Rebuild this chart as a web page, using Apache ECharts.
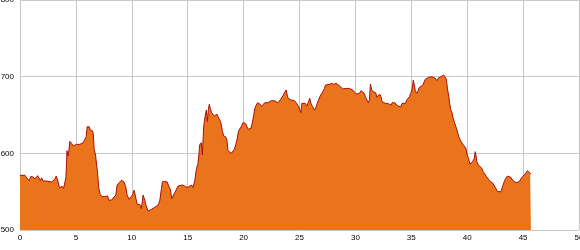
<!DOCTYPE html>
<html>
<head>
<meta charset="utf-8">
<script src="https://cdn.jsdelivr.net/npm/echarts@6/dist/echarts.min.js"></script>
<style>html,body{margin:0;padding:0;background:#fff}#c{width:580px;height:250px}</style>
</head>
<body>
<div id="c"></div>
<script>
const distanceKm = [
0,0.45,0.6,0.74,0.83,0.95,1.13,1.22,1.34,1.43,1.58,1.70,1.82,1.93,2.08,2.17,2.38,2.53,2.83,2.98,
3.13,3.24,3.36,3.45,3.54,3.66,3.78,3.90,4.02,4.11,4.20,4.32,4.46,4.61,4.76,4.91,5.06,5.21,5.36,5.51,
5.65,5.80,5.92,6.01,6.10,6.19,6.28,6.46,6.55,6.64,6.76,6.85,6.93,7.05,7.17,7.35,7.53,7.65,7.83,7.95,
8.18,8.33,8.57,8.69,8.87,9.08,9.17,9.29,9.46,9.58,9.76,9.88,10.06,10.21,10.36,10.48,10.71,10.86,11.01,11.16,
11.31,11.46,11.55,11.76,11.90,12.05,12.20,12.35,12.50,12.65,12.74,12.95,13.15,13.30,13.45,13.57,13.69,13.84,13.99,14.14,
14.29,14.52,14.64,14.82,15.03,15.18,15.33,15.48,15.63,15.77,15.92,16.01,
16.07,16.22,16.31,16.43,16.55,16.67,16.76,16.85,16.93,17.02,17.14,17.26,17.38,17.50,17.62,17.74,17.86,17.98,18.10,18.21,
18.39,18.51,18.60,18.75,18.90,19.05,19.17,19.29,19.40,19.55,19.70,19.82,19.94,20.06,20.18,20.30,20.42,20.54,20.65,20.77,
20.89,21.01,21.13,21.25,21.37,21.49,21.61,21.73,21.88,22.02,22.17,22.32,22.47,22.62,22.77,22.92,23.07,23.15,23.27,23.39,
23.51,23.63,23.75,23.81,23.90,23.99,24.11,24.26,24.40,
24.55,24.70,24.85,24.94,25.06,25.12,25.21,25.36,25.51,25.66,25.80,25.92,26.04,26.19,26.34,26.46,26.58,26.70,26.82,26.93,
27.08,27.23,27.32,27.47,27.68,27.88,28.06,28.27,28.42,28.57,28.72,28.87,29.01,29.16,29.31,29.46,29.61,29.76,29.91,30.06,
30.20,30.35,30.50,30.65,30.80,30.89,31.04,31.16,31.25,31.34,31.45,31.57,31.69,31.81,31.93,32.05,32.17,32.29,32.38,32.53,
32.68,32.88,
33.04,33.19,33.28,33.40,33.52,33.64,33.78,33.93,34.08,34.17,34.32,34.47,34.59,34.71,34.83,34.94,35.06,35.18,35.27,35.36,
35.48,35.60,35.72,35.87,36.02,36.16,36.25,36.40,36.55,36.70,36.85,37.00,37.15,37.27,37.39,37.50,37.65,37.80,37.89,38.01,
38.10,38.16,38.25,38.34,38.43,38.52,38.64,38.75,38.87,38.99,39.11,39.23,39.35,39.47,39.59,39.74,39.89,40.00,40.12,40.24,
40.33,40.48,40.63,40.72,40.78,40.86,41.01,41.16,41.31,41.43,41.55,41.73,41.91,42.08,42.26,42.41,42.56,42.71,42.86,43.01,
43.16,43.31,43.45,43.60,43.75,43.90,44.05,44.20,44.35,44.50,44.64,44.79,44.94,45.09,45.24,45.39,45.54,45.63,45.70
];
const elevationM = [
571.3,571.3,568,566.5,564.3,569.6,569.6,571.3,566.5,564.3,570.9,569.6,564.3,568,563.9,562.6,563.9,562.6,562.6,563.9,
566.5,570.4,565.2,560,555,554.3,557,554.3,552,568.7,603.5,596.5,615.7,613,609.6,609.6,611.7,610.9,611.7,611.7,
613.9,618.3,621.7,634.7,637,634.7,630.4,629.6,626,604.3,597.8,584.8,576,554.3,546.5,543.5,543.5,544.8,544.4,539,
539,541,545.6,558.7,561.7,565,566,563,556.5,545.6,540,538,545.6,552,551,533.5,533.5,528,545.6,539,
530,524.8,527,527,526,529.6,530.4,532.6,538,554,563,563,563,557.4,553,541,539,548.6,553,557.4,
560,558.7,560,556.5,555.6,557.4,558.7,555.6,564,579,587,600,
610.9,613.9,597.8,634.7,647.8,656.5,641.3,657.4,663.9,658.7,653,652,648.7,650,651,647,643.5,639,629.6,622.6,
621.7,617.4,603.5,602,600,602,605.2,610.9,617.4,629,630.4,635.7,640,642.6,639,634.7,631.3,629,632.6,639,
648.7,658.7,663,666,665.2,663.9,660.9,663,666,668.6,666,667.4,668.6,668.6,668.6,666,666,668.6,669.6,671.7,
674.8,678.3,680.4,682.6,676,671.7,670.4,669.5,669.5,
668.7,666,664.3,660.8,658.7,653,665.2,666.5,665.2,661.7,667.4,671.7,664.3,660.8,656.5,659.5,665.2,669.5,673.9,676,
680.4,684.7,689.1,690.4,690,691.3,690,691.3,690,688.2,686,683.9,686,684.7,682.6,684.7,686,682.6,680.4,677.4,
676,678.2,681.7,681.7,678.2,673.9,673,666,669.5,690.4,683.4,680.4,681.3,679.1,673,674.7,677.4,673.9,667.4,666,
665.2,665.2,
663,663,666,665.2,666,663.9,661.7,663,660.8,665.2,663.9,665.2,669.5,671.7,673.9,678.2,682.6,695.6,689.1,681.7,
678.2,681.7,686,686.9,688.7,690.4,696.5,696.5,699.1,700,700,697.8,697.8,694.7,697.8,700,700,700.8,702.1,700,
697.8,693.4,682.6,676,665.2,657.4,653,645.6,640,634.7,629.5,622.6,618.2,615.2,612.1,609.5,606.5,597.8,593.4,586,
587,589.1,593.5,602.2,597.8,589.1,584.8,583.5,580.4,576.1,573.9,569.6,566.1,563,561.7,561.7,554.4,550,548.7,550,
556.5,563,567.4,570.4,570.4,568.7,565.2,563,561.7,561.7,563,565.2,569.6,571.7,573.9,577.4,576.1,573.9,573
];
const xTicks = [0,5,10,15,20,25,30,35,40,45,50];
const yTicks = [500,600,700,800];

const points = distanceKm.map((d, i) => [d, elevationM[i]]);
const chart = echarts.init(document.getElementById('c'), null, {renderer: 'canvas'});
const labelFont = {fontFamily: 'Liberation Sans', fontSize: 8, color: '#000'};
chart.setOption({
  animation: false,
  grid: {left: 20, right: 1, top: 0, bottom: 20, containLabel: false, outerBoundsMode: 'none'},
  xAxis: {
    type: 'value', min: xTicks[0], max: xTicks[xTicks.length - 1], interval: 5,
    axisLine: {show: false}, axisTick: {show: false},
    axisLabel: Object.assign({margin: 4, showMaxLabel: true, showMinLabel: true, hideOverlap: false}, labelFont),
    splitLine: {show: true, lineStyle: {color: '#c8c8c8', width: 1}}
  },
  yAxis: {
    type: 'value', min: yTicks[0], max: yTicks[yTicks.length - 1], interval: 100,
    axisLine: {show: false}, axisTick: {show: false},
    axisLabel: Object.assign({margin: 6, hideOverlap: false}, labelFont),
    splitLine: {show: true, lineStyle: {color: '#c8c8c8', width: 1}}
  },
  series: [{
    type: 'line',
    data: points,
    showSymbol: false,
    symbol: 'none',
    lineStyle: {color: '#a80f0a', width: 1},
    areaStyle: {color: '#e9741b', opacity: 1},
    z: 3
  }]
});
</script>
</body>
</html>
